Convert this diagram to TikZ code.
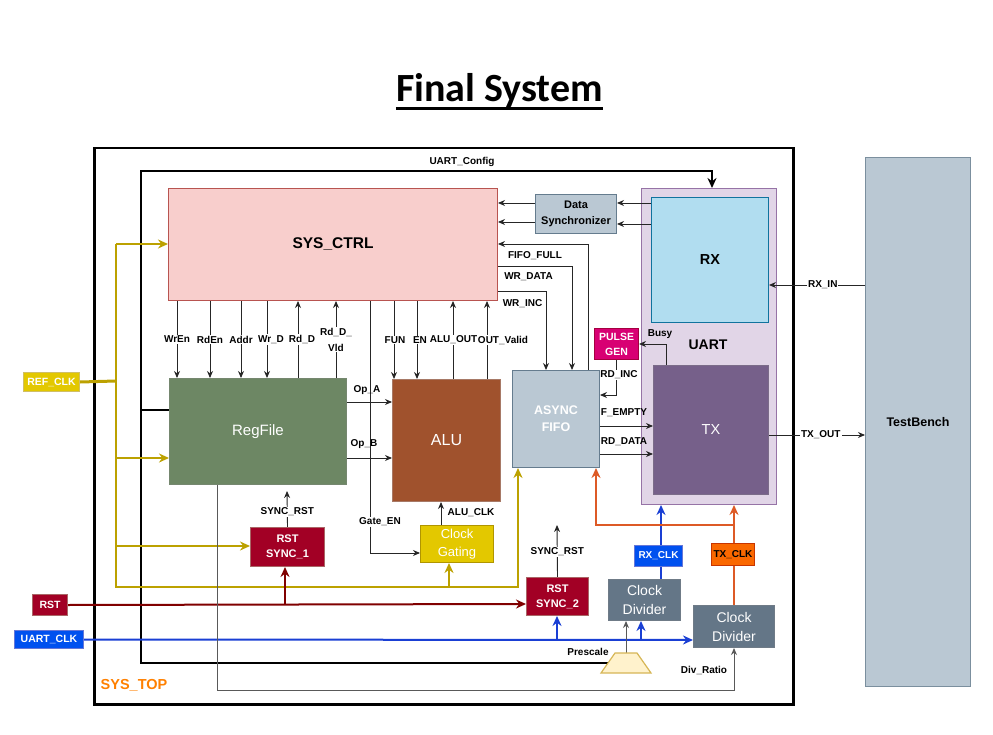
\documentclass[tikz,border=0pt]{standalone}
\usepackage{fontspec}
\setmainfont{Liberation Sans}
\newfontfamily\titlefont{Carlito}
\usetikzlibrary{arrows.meta,calc}
\pgfdeclarelayer{back}\pgfdeclarelayer{mid}
\pgfsetlayers{back,mid,main}
\definecolor{ctrlF}{HTML}{F8CECC}\definecolor{ctrlD}{HTML}{B85450}
\definecolor{regF}{HTML}{6D8764}\definecolor{regD}{HTML}{3A5431}
\definecolor{aluF}{HTML}{A0522D}\definecolor{aluD}{HTML}{6D1F00}
\definecolor{grF}{HTML}{BAC8D3}\definecolor{grD}{HTML}{23445D}
\definecolor{uartF}{HTML}{E1D5E7}\definecolor{uartD}{HTML}{9673A6}
\definecolor{rxF}{HTML}{B1DDF0}\definecolor{rxD}{HTML}{10739E}
\definecolor{txF}{HTML}{76608A}\definecolor{txD}{HTML}{432D57}
\definecolor{pgF}{HTML}{D80073}\definecolor{pgD}{HTML}{A50040}
\definecolor{ylF}{HTML}{E3C800}\definecolor{ylD}{HTML}{B09500}
\definecolor{rdF}{HTML}{A20025}\definecolor{rdD}{HTML}{6F0000}
\definecolor{cdF}{HTML}{647687}\definecolor{cdD}{HTML}{314354}
\definecolor{blF}{HTML}{0050EF}\definecolor{blD}{HTML}{001DBC}
\definecolor{orF}{HTML}{FA6800}\definecolor{orD}{HTML}{C73500}
\definecolor{trF}{HTML}{FFF2CC}\definecolor{trD}{HTML}{D6B656}
\definecolor{ylLine}{HTML}{BCA100}
\definecolor{rdLine}{HTML}{800000}
\definecolor{blLine}{HTML}{1A3FD4}
\definecolor{orLine}{HTML}{DD5A26}
\definecolor{topO}{HTML}{FF8000}
\tikzset{
  blk/.style={draw, line width=1pt, inner sep=0pt, anchor=north west, align=center},
  sz/.style 2 args={minimum width=#1pt, minimum height=#2pt},
  fnt/.style 2 args={font=\fontsize{#1}{#2}\selectfont},
  fntb/.style 2 args={font=\fontsize{#1}{#2}\selectfont\bfseries},
  lab/.style={font=\fontsize{10}{11}\selectfont\bfseries, inner sep=1pt, align=center},
  wlab/.style={lab, fill=white},
  sig/.style={draw=black!85, line width=0.9pt},
  gry/.style={draw=black!65, line width=1pt},
  arr/.style={-{Stealth[length=7pt,width=6pt]}},
  barr/.style={-{Stealth[length=10pt,width=9pt]}},
  yl/.style={draw=ylLine, line width=2pt},
  rd/.style={draw=rdLine, line width=2pt},
  bl/.style={draw=blLine, line width=2pt},
  orl/.style={draw=orLine, line width=2pt},
}
\begin{document}
\begin{tikzpicture}[x=1pt,y=-1pt]
\useasboundingbox (0,0) rectangle (993,735);
% title
\node[font=\titlefont\fontsize{40}{44}\selectfont\bfseries, anchor=base, inner sep=0pt] (title) at (499.5,101.7) {Final System};
\draw[line width=3pt] ([yshift=-6.6pt]title.base west) -- ([yshift=-6.6pt]title.base east);

\begin{pgfonlayer}{back}
\node[blk, sz={699}{556}, line width=2.5pt] (systop) at (93,147) {};
\node[blk, sz={135}{316}, fill=uartF, draw=uartD] (uart) at (641,188) {};
\end{pgfonlayer}

% blocks
\node[blk, sz={105}{529}, fill=grF, draw=grD!60, fntb={12.5}{15}] (tb) at (865,157) {TestBench};
\node[blk, sz={329}{112}, fill=ctrlF, draw=ctrlD, fntb={15.5}{18}] (sysctrl) at (168,188) {SYS\_CTRL};
\node[blk, sz={177}{106}, fill=regF, draw=regD!70, text=white, fnt={15}{18}] (regfile) at (169,378) {RegFile};
\node[blk, sz={108}{122}, fill=aluF, draw=aluD!60, text=white, fnt={16}{18}] (alu) at (392,379) {ALU};
\node[blk, sz={87}{97}, fill=grF, draw=grD!70, text=white, fntb={12.5}{17}] (fifo) at (512,370) {ASYNC\\FIFO};
\node[blk, sz={117}{125}, fill=rxF, draw=rxD, fntb={14.5}{17}] (rx) at (651,197) {RX};
\node[blk, sz={115}{129}, fill=txF, draw=txD!70, text=white, fnt={14.5}{17}] (tx) at (653,365) {TX};
\node[blk, sz={44}{31}, fill=pgF, draw=pgD, text=white, fntb={10.5}{15}] (pulse) at (594,328) {PULSE\\GEN};
\node[blk, sz={81}{39}, fill=grF, draw=grD!70, fntb={11}{16}] (dsync) at (535,194) {Data\\Synchronizer};
\node[blk, sz={73}{37}, fill=ylF, draw=ylD, text=white, fnt={13}{17.5}] (cg) at (420,525) {Clock\\Gating};
\node[blk, sz={74}{39}, fill=rdF, draw=rdD!60, text=white, fntb={11}{15}] (rs1) at (250,527) {RST\\SYNC\_1};
\node[blk, sz={62}{38}, fill=rdF, draw=rdD!60, text=white, fntb={11}{15}] (rs2) at (526,577) {RST\\SYNC\_2};
\node[blk, sz={72}{41}, fill=cdF, draw=cdD!70, text=white, fnt={14}{19}] (cdrx) at (608,579) {Clock\\Divider};
\node[blk, sz={81}{42}, fill=cdF, draw=cdD!70, text=white, fnt={14}{19}] (cdtx) at (693,605) {Clock\\Divider};
\node[blk, sz={48}{21}, fill=blF, draw=blD!60, text=white, fntb={10}{12}] (rxclk) at (634,545) {RX\_CLK};
\node[blk, sz={43}{22}, fill=orF, draw=orD, fntb={10}{12}] (txclk) at (711,543) {TX\_CLK};
\node[blk, sz={56}{19}, fill=ylF, draw=ylD!60, text=white, fntb={10.5}{12}] (refclk) at (23,372) {REF\_CLK};
\node[blk, sz={35}{21}, fill=rdF, draw=rdD!60, text=white, fntb={10.5}{12}] (rst) at (32,594) {RST};
\node[blk, sz={69}{18}, fill=blF, draw=blD!60, text=white, fntb={10.5}{12}] (uartclk) at (14,630) {UART\_CLK};
\node[fntb={14}{16}] (uartlab) at (708,345) {UART};
\node[fntb={14.5}{16}, text=topO] (toplab) at (134,685) {SYS\_TOP};
\draw[fill=trF, draw=trD, line width=1.2pt] (601,673) -- (615,653) -- (637,653) -- (651,673) -- cycle;
\coordinate (mux) at (626,653);
\coordinate (muxL) at (608,663);

\begin{pgfonlayer}{mid}
% UART_Config bus
\draw[line width=1.8pt, barr] (muxL) -- (141,663) -- (141,171) -- (712,171) -- (uart.north -| 712,0);
\draw[line width=1.8pt] (regfile.west |- 0,410) -- (141,410);
\node[lab] (cfglab) at (462,162) {UART\_Config};
% SYS_CTRL <-> RegFile
\draw[sig,arr] (sysctrl.south -| 177,0) -- node[wlab] (l1) {WrEn} (regfile.north -| 177,0);
\draw[sig,arr] (sysctrl.south -| 210,0) -- node[wlab] (l2) {RdEn} (regfile.north -| 210,0);
\draw[sig,arr] (sysctrl.south -| 241,0) -- node[wlab] (l3) {Addr} (regfile.north -| 241,0);
\draw[sig,arr] (sysctrl.south -| 267,0) -- node[wlab, xshift=4pt] (l4) {Wr\_D} (regfile.north -| 267,0);
\draw[sig,arr] (regfile.north -| 298,0) -- node[wlab, xshift=4pt] (l5) {Rd\_D} (sysctrl.south -| 298,0);
\draw[sig,arr] (regfile.north -| 336,0) -- node[wlab, font=\fontsize{10}{16}\selectfont\bfseries] (l6) {Rd\_D\_\\Vld} (sysctrl.south -| 336,0);
% SYS_CTRL <-> ALU
\draw[sig,arr] (sysctrl.south -| 394,0) -- node[wlab, xshift=1pt] (l7) {FUN} (alu.north -| 394,0);
\draw[sig,arr] (sysctrl.south -| 417,0) -- node[wlab, xshift=3pt] (l8) {EN} (alu.north -| 417,0);
\draw[sig,arr] (alu.north -| 453,0) -- node[wlab, xshift=0.5pt] (l9) {ALU\_OUT} (sysctrl.south -| 453,0);
\draw[sig,arr] (alu.north -| 487,0) -- node[wlab, xshift=16pt, inner sep=0.3pt] (l10) {OUT\_Valid} (sysctrl.south -| 487,0);
% Gate_EN
\draw[sig,arr] (sysctrl.south -| 370,0) -- (370,553) -- (cg.west |- 0,553);
\node[wlab] (l11) at (380,522) {Gate\_EN};
% Op_A / Op_B
\draw[sig,arr] (regfile.east |- 0,402) -- (alu.west |- 0,402);
\draw[sig,arr] (regfile.east |- 0,458) -- (alu.west |- 0,458);
\node[lab] (l12) at (367,390) {Op\_A};
\node[lab] (l13) at (364,444) {Op\_B};
% ALU_CLK
\draw[sig,arr] (cg.north -| 441,0) -- (alu.south -| 441,0);
\node[lab] (l14) at (471,513) {ALU\_CLK};
% SYNC_RST
\draw[sig,arr] (rs1.north) -- node[wlab, pos=0.42] (l15) {SYNC\_RST} (287,491);
\draw[sig,arr] (rs2.north) -- node[wlab, pos=0.48] (l16) {SYNC\_RST} (557,525);
% Data synchronizer
\draw[sig,arr] (rx.west |- 0,203) -- (dsync.east |- 0,203);
\draw[sig,arr] (rx.west |- 0,224) -- (dsync.east |- 0,224);
\draw[sig,arr] (dsync.west |- 0,203) -- (sysctrl.east |- 0,203);
\draw[sig,arr] (dsync.west |- 0,222) -- (sysctrl.east |- 0,222);
% FIFO signals
\draw[sig,arr] (fifo.north -| 588,0) |- (sysctrl.east |- 0,244);
\draw[sig,arr] (sysctrl.east |- 0,266) -| (fifo.north -| 572,0);
\draw[sig,arr] (sysctrl.east |- 0,291) -| (fifo.north -| 546,0);
\node[lab] (l17) at (535,256) {FIFO\_FULL};
\node[lab] (l18) at (528.5,277) {WR\_DATA};
\node[lab] (l19) at (522.5,304) {WR\_INC};
\draw[sig,arr] (tx.north -| 666,0) |- (pulse.east);
\node[lab] (l20) at (660,334) {Busy};
\draw[sig,arr] (pulse.south -| 616,0) |- (fifo.east |- 0,395);
\node[wlab] (l21) at (619,375) {RD\_INC};
\draw[sig,arr] (fifo.east |- 0,426) -- (tx.west |- 0,426);
\draw[sig,arr] (fifo.east |- 0,454) -- (tx.west |- 0,454);
\node[lab] (l22) at (624,413) {F\_EMPTY};
\node[lab] (l23) at (624,442) {RD\_DATA};
% RX_IN / TX_OUT
\draw[sig,arr] (tb.west |- 0,285) -- node[wlab, pos=0.44] (l24) {RX\_IN} (rx.east |- 0,285);
\draw[sig,arr] (tx.east |- 0,435) -- node[wlab, pos=0.54] (l25) {TX\_OUT} (tb.west |- 0,435);
% REF_CLK bus
\draw[yl, line width=3pt] (refclk.east) -- (116,381);
\draw[yl, barr] (116,244) -- (sysctrl.west |- 0,244);
\draw[yl, barr] (116,458) -- (regfile.west |- 0,458);
\draw[yl, barr] (116,546) -- (rs1.west |- 0,546);
\draw[yl, barr] (116,244) -- (116,587) -| (fifo.south -| 518,0);
\draw[yl, barr] (449,587) -- (cg.south -| 449,0);
% RST
\draw[rd, barr] (rst.east) -- (rs2.west |- 0,604);
\draw[rd, barr] (285,604) -- (rs1.south -| 285,0);
% UART_CLK
\draw[bl, barr] (uartclk.east) -- (cdtx.west |- 0,640);
\draw[bl, barr] (557,640) -- (rs2.south -| 557,0);
\draw[bl, barr] (641,640) -- (cdrx.south -| 641,0);
\draw[bl, barr] (cdrx.north -| 661,0) -- (uart.south -| 661,0);
% TX clock
\draw[orl, barr] (cdtx.north -| 734,0) -- (uart.south -| 734,0);
\draw[orl, barr] (734,525) -| (fifo.south -| 596,0);
% Div_Ratio / Prescale
\draw[gry, arr] (regfile.south -| 217,0) -- (217,690) -| (cdtx.south -| 734,0);
\node[lab] (l26) at (704,670) {Div\_Ratio};
\draw[gry, arr] (mux) -- (cdrx.south -| mux);
\node[lab] (l27) at (588,652) {Prescale};
\end{pgfonlayer}
\end{tikzpicture}
\end{document}
